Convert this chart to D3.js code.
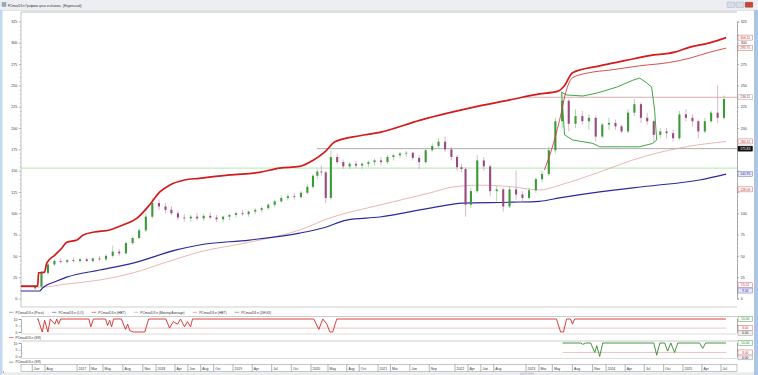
<!DOCTYPE html>
<html><head><meta charset="utf-8">
<script src="https://cdn.jsdelivr.net/npm/d3@7"></script>
<style>
body{margin:0;background:#fff;overflow:hidden}
svg{display:block;font-family:"Liberation Sans",Arial,sans-serif}
</style>
</head><body>
<svg id="c" width="758" height="375"></svg>
<script>
// ---------------- DATA ----------------
const titleText = "PCmaxD3.n Графики цены и объема - [Недельный]";
const seriesName = "PCmaxD3.n";
const legendLabels = ["(Price)", "(LO)", "(HBT)", "(Moving Average)", "(HBT)", "(DEG3)"];
const subLegendLabel = "(SR)";

// monthly candles (open, high, low, close) starting June 2016
const priceStart = "2016-06";
const priceOHLC = [
  [12,16,10,14],[14,32,13,30],[30,42,28,40],[40,46,38,44],[44,47,41,43],[43,46,41,45],[45,48,42,44],
  [44,47,42,46],[46,48,43,44],[44,48,42,47],[47,50,44,46],[46,52,44,50],[50,62,48,55],[55,58,50,53],[53,67,52,65],[65,73,63,71],[71,82,70,80],[80,100,78,96],[96,118,94,112],
  [112,116,104,108],[108,112,100,104],[104,108,98,100],[100,103,92,95],[95,99,90,94],[94,98,90,96],[96,100,92,94],[94,99,91,97],[97,101,93,95],[95,98,90,93],[93,97,90,96],[96,99,92,98],
  [98,102,95,100],[100,104,97,99],[99,103,96,102],[102,106,99,104],[104,108,101,106],[106,112,104,110],[110,116,107,114],[114,121,112,118],[118,123,115,120],[120,124,116,119],[119,126,117,124],[124,134,122,131],
  [131,146,129,144],[144,152,140,149],[149,156,144,148],[148,150,112,118],[118,174,116,166],[166,170,158,160],[160,163,152,155],[155,160,152,158],[158,161,153,156],[156,160,152,158],[158,162,154,160],[160,164,156,162],
  [162,166,156,160],[160,168,158,166],[166,170,162,168],[168,172,165,170],[170,173,166,171],[171,172,162,165],[165,168,152,160],[160,176,158,174],[174,182,172,179],[179,188,176,184],[184,190,172,175],[175,178,162,166],
  [166,168,150,154],[154,158,148,152],[152,154,96,110],[110,130,106,126],[126,168,124,162],[162,166,150,155],[155,157,120,126],[126,132,114,128],[128,130,102,108],[108,132,106,128],[128,150,116,122],[122,126,114,118],
  [118,130,116,127],[127,142,124,140],[140,150,136,146],[146,178,144,174],[174,212,170,208],[208,242,200,232],[232,234,196,205],[205,222,200,214],[214,220,204,208],[208,216,198,212],[212,214,184,190],[190,206,188,204],
  [204,212,198,206],[206,210,198,202],[202,204,194,196],[196,222,194,218],[218,234,214,228],[228,230,206,212],[212,218,204,208],[208,210,184,192],[192,200,188,196],[196,200,188,194],[194,198,184,188],[188,220,186,216],
  [216,222,208,212],[212,216,202,208],[208,210,188,196],[196,212,194,208],[208,220,206,218],[218,250,206,212],[212,238,210,234]
];

const hbtUpper = [
  ["2016-04-07",14.6],["2016-06-27",14.6],["2016-07-01",30],["2016-07-30",31],["2016-08-09",41.6],["2016-09-17",51],
  ["2016-10-20",59],["2016-11-13",66],["2017-01-01",68.6],["2017-01-30",74.5],["2017-03-22",78],["2017-06-01",80.4],
  ["2017-07-30",86],["2017-10-04",94],["2017-12-03",110],["2018-01-19",125],["2018-03-06",133],["2018-05-16",139],
  ["2018-07-26",141],["2018-12-16",145],["2019-05-05",148],["2019-08-07",153],["2019-11-09",155],["2020-01-14",162],
  ["2020-04-09",172],["2020-06-04",184],["2020-10-04",191],["2021-01-10",195],["2021-07-17",209],["2021-12-07",218],
  ["2022-05-26",226],["2022-10-16",233],["2023-03-03",240],["2023-05-24",243],["2023-06-26",250],["2023-08-01",265],
  ["2023-12-03",273],["2024-03-29",279],["2024-07-26",285],["2024-11-22",289],["2025-02-03",295],["2025-05-08",300],
  ["2025-07-25",306.11]
];
const hbtThin = [
  ["2023-03-26",151],["2023-04-27",174],["2023-06-03",209],["2023-07-05",245],["2023-08-01",259],["2023-10-18",265],
  ["2024-01-19",268],["2024-06-09",273],["2024-10-30",277],["2025-02-03",282],["2025-05-08",289],["2025-07-25",293.75]
];
const loLine = [
  ["2016-04-07",8.8],["2016-07-06",8.8],["2016-07-20",12.3],["2016-09-26",20.5],["2016-11-13",25],["2017-04-15",33.4],
  ["2017-09-16",41.6],["2018-04-08",57],["2018-07-26",62.8],["2019-03-19",68.6],["2019-11-09",76.8],["2020-03-25",82.7],
  ["2020-08-01",92],["2021-01-10",95.6],["2021-09-03",106],["2022-02-25",112],["2022-10-30",113],["2023-03-03",114],
  ["2023-06-03",118],["2023-12-03",125],["2024-07-26",132],["2025-03-21",139],["2025-07-25",145.95]
];
const maLine = [
  ["2016-04-07",13.5],["2016-07-20",13.5],["2016-11-13",17],["2017-04-15",21.7],["2017-09-16",30],["2018-02-21",42.8],
  ["2018-07-26",54.6],["2019-03-19",66],["2019-11-09",80.4],["2020-05-10",94.5],["2021-01-10",109.7],["2021-09-03",123.8],
  ["2021-12-22",130.8],["2022-05-26",133],["2022-10-30",131],["2023-03-03",127.3],["2023-06-03",133],["2023-12-03",148.4],
  ["2024-05-07",162.5],["2024-12-16",176.6],["2025-07-25",184.32]
];
const degUpper = [
  ["2023-06-12",242],["2023-07-05",238.8],["2023-09-17",237.6],["2023-11-20",241],["2024-02-21",248],["2024-05-07",256],
  ["2024-06-09",258.7],["2024-07-12",253],["2024-08-05",248],["2024-08-19",221],["2024-08-29",186]
];
const degLower = [
  ["2023-06-12",242],["2023-06-26",192],["2023-08-01",186],["2023-11-02",182],["2023-12-03",178],["2024-03-20",178],
  ["2024-06-09",178],["2024-08-10",182],["2024-08-29",186]
];
const levelGray = {from:"2020-02-12", value:175.83};
const levelBrown = {from:"2022-12-26", value:236.11};
const levelGreen = {from:"2016-04-07", value:153};
const dataEnd = "2025-07-25";

const rightBoxes = [
  {v:306.11, t:"306.11", k:"red"},{v:293.75, t:"293.75", k:"red"},{v:236.11, t:"236.11", k:"gray"},
  {v:184.32, t:"184.32", k:"red"},{v:175.83, t:"175.83", k:"black"},{v:145.95, t:"145.95", k:"blue"},
  {v:128.06, t:"128.06", k:"red"},{v:15.51, t:"15.51", k:"red"},{v:9.34, t:"9.34", k:"blue"}
];

const srRed = [
  ["2016-06-28",10],["2016-07-19",0],["2016-07-30",9],["2016-08-15",0],["2016-08-26",10],["2016-09-17",6],["2016-09-26",10],
  ["2016-10-05",6],["2016-10-15",10],["2017-02-25",10],["2017-03-06",4],["2017-03-18",10],["2017-05-13",10],["2017-05-22",5],
  ["2017-06-01",9],["2017-06-10",4],["2017-06-19",10],["2017-07-25",10],["2017-08-13",2],["2017-08-23",6],["2017-09-02",1],
  ["2017-09-20",0],["2017-11-10",0],["2017-11-28",10],["2018-02-17",10],["2018-03-06",3],["2018-03-24",8],["2018-04-13",6],
  ["2018-04-27",10],["2018-05-16",4],["2018-05-30",8],["2018-06-14",4],["2018-06-23",10],["2020-01-21",10],["2020-02-26",2],
  ["2020-03-25",10],["2020-04-23",6],["2020-05-10",0],["2020-05-24",0],["2020-06-13",10],["2023-05-20",10],["2023-06-08",0],
  ["2023-06-21",0],["2023-07-05",10],["2023-07-23",10],["2023-08-01",6],["2023-08-11",10],["2025-07-25",10]
];
const srGreen = [
  ["2023-06-17",10],["2023-09-08",10],["2023-09-17",9],["2023-10-01",10],["2023-10-23",10],["2023-11-11",3],["2023-11-20",8],
  ["2023-12-03",0],["2023-12-17",10],["2024-08-15",10],["2024-08-29",1],["2024-09-13",10],["2024-10-06",10],["2024-10-20",4],
  ["2024-11-04",10],["2024-11-22",3],["2024-12-07",10],["2025-03-21",10],["2025-04-05",6],["2025-04-19",10],["2025-07-25",10]
];
const srLevel = 3;
const srTicks = [0,5,10];

const timeTicks = [
  ["2016-06-01","Jun"],["2016-08-01","Aug"],["2017-01-01","2017"],["2017-03-01","Mar"],["2017-05-01","May"],["2017-08-01","Aug"],
  ["2017-11-01","Nov"],["2018-01-01","2018"],["2018-04-01","Apr"],["2018-06-01","Jun"],["2018-08-01","Aug"],["2018-10-01","Oct"],
  ["2019-01-01","2019"],["2019-04-01","Apr"],["2019-07-01","Jul"],["2019-10-01","Oct"],["2020-01-01","2020"],["2020-05-01","May"],
  ["2020-08-01","Aug"],["2020-10-01","Oct"],["2021-01-01","2021"],["2021-03-01","Mar"],["2021-06-01","Jun"],["2021-09-01","Sep"],
  ["2022-01-01","2022"],["2022-04-01","Apr"],["2022-06-01","Jun"],["2022-08-01","Aug"],["2023-01-01","2023"],["2023-03-01","Mar"],
  ["2023-05-01","May"],["2023-08-01","Aug"],["2023-11-01","Nov"],["2024-01-01","2024"],["2024-04-01","Apr"],["2024-07-01","Jul"],
  ["2024-10-01","Oct"],["2025-01-01","2025"],["2025-04-01","Apr"],["2025-07-01","Jul"]
];

// ---------------- LAYOUT ----------------
const parse = d3.timeParse("%Y-%m-%d");
const P = {l:21, r:737, t:12, b:307};
// bar-indexed time axis: trading gaps compress early 2020 and early 2022
const anchorDates = ["2016-01-01","2017-01-01","2018-01-01","2019-01-01","2020-01-01","2020-05-01","2021-01-01",
  "2022-01-01","2022-04-01","2023-01-01","2024-01-01","2025-01-01","2025-07-01","2026-01-01"].map(parse);
const anchorPx = [0.5,77,156,233,311,328,378,455,468,526,606,683,721,760];
const x = d3.scaleTime().domain(anchorDates).range(anchorPx);
const y = d3.scaleLinear().domain([0,325]).range([298.5,21.5]);
const y2 = d3.scaleLinear().domain([0,10]).range([332,319]);
const y3 = d3.scaleLinear().domain([0,10]).range([356.5,343]);

const svg = d3.select("#c");
const C = {red:"#d41a1a", red2:"#d23a3a", blue:"#2a2a9c", pink:"#e3a3a3", green:"#2e9a2e",
  up:"#3a9a3a", down:"#9c4a7c", upW:"#8cc48c", downW:"#c89ab4", axis:"#7a7a7a", text:"#333"};

// window chrome
svg.append("rect").attr("width",758).attr("height",375).attr("fill","#fff");
svg.append("rect").attr("x",0).attr("y",0).attr("width",758).attr("height",10).attr("fill","#eceef2");
svg.append("line").attr("x1",0).attr("x2",758).attr("y1",10.5).attr("y2",10.5).attr("stroke","#c8ccd4").attr("stroke-width",0.6);
svg.append("rect").attr("x",2).attr("y",2.5).attr("width",4).attr("height",4).attr("fill","#9ab").attr("stroke","#678").attr("stroke-width",0.3);
svg.append("text").attr("x",8).attr("y",6.6).attr("font-size",3.1).attr("fill","#333").text(titleText);
[["#d6dde8",727],["#d6dde8",736],["#c9473a",745]].forEach(([c,bx])=>{
  svg.append("rect").attr("x",bx).attr("y",2).attr("width",8).attr("height",5.5).attr("rx",0.8).attr("fill",c).attr("stroke","#8a97a8").attr("stroke-width",0.3);
});
svg.append("rect").attr("x",0).attr("y",10).attr("width",2.5).attr("height",365).attr("fill","#c4d8ee");
svg.append("rect").attr("x",754).attr("y",10).attr("width",4).attr("height",365).attr("fill","#a9c6e6");

// clip
svg.append("clipPath").attr("id","mainclip").append("rect")
  .attr("x",P.l).attr("y",P.t).attr("width",P.r-P.l).attr("height",P.b-P.t);

// main frame
svg.append("line").attr("x1",P.l).attr("x2",P.r).attr("y1",P.t).attr("y2",P.t).attr("stroke","#9a9a9a").attr("stroke-width",0.6);
svg.append("line").attr("x1",P.l).attr("x2",P.l).attr("y1",P.t).attr("y2",P.b).attr("stroke","#9a9a9a").attr("stroke-width",0.6);
svg.append("line").attr("x1",P.l).attr("x2",P.r).attr("y1",P.b).attr("y2",P.b).attr("stroke","#b0b0b0").attr("stroke-width",0.6);

// axes (right & left)
function yAxis(scale, side, xpos, major, minor, fs){
  const g = svg.append("g").attr("transform",`translate(${xpos},0)`);
  const ax = (side==="right"?d3.axisRight(scale):d3.axisLeft(scale)).tickValues(major).tickSize(2.2).tickPadding(1.5)
    .tickFormat(d3.format("d"));
  g.call(ax);
  if(minor){
    const mg = svg.append("g").attr("transform",`translate(${xpos},0)`);
    mg.call((side==="right"?d3.axisRight(scale):d3.axisLeft(scale)).tickValues(minor).tickSize(1.1).tickFormat(""));
    mg.select(".domain").remove();
    mg.selectAll("line").attr("stroke",C.axis).attr("stroke-width",0.4);
  }
  g.select(".domain").attr("stroke",C.axis).attr("stroke-width",0.6);
  g.selectAll(".tick line").attr("stroke",C.axis).attr("stroke-width",0.5);
  g.selectAll("text").attr("font-size",fs).attr("fill",C.text).attr("font-family","Liberation Sans, Arial");
  return g;
}
const majors = d3.range(0,326,25);
const minors = d3.range(0,326,5).filter(v=>v%25);
const rAx = yAxis(y,"right",P.r,majors,minors,3.6);
// value boxes cover the tick labels they sit on
rAx.selectAll(".tick").filter(v=>rightBoxes.some(b=>Math.abs(y(b.v)-y(v))<5.2)).select("text").remove();
yAxis(y,"left",P.l,majors,minors,3.6).select(".domain").remove();

const main = svg.append("g").attr("clip-path","url(#mainclip)");

// horizontal levels
[[levelGreen,"#8fdc8f",0.7],[levelGray,"#8a8a8a",0.7],[levelBrown,"#c98c8c",0.7]].forEach(([L,c,w])=>{
  main.append("line").attr("x1",x(parse(L.from))).attr("x2",P.r).attr("y1",y(L.value)).attr("y2",y(L.value))
    .attr("stroke",c).attr("stroke-width",w);
});

const line = d3.line().x(d=>x(parse(d[0]))).y(d=>y(d[1]));
const smooth = d3.line().x(d=>x(parse(d[0]))).y(d=>y(d[1])).curve(d3.curveMonotoneX);

main.append("path").attr("d",smooth(maLine)).attr("fill","none").attr("stroke",C.pink).attr("stroke-width",0.8);
main.append("path").attr("d",smooth(loLine)).attr("fill","none").attr("stroke",C.blue).attr("stroke-width",1.2);
main.append("path").attr("d",line(degUpper)).attr("fill","none").attr("stroke",C.green).attr("stroke-width",0.9);
main.append("path").attr("d",line(degLower)).attr("fill","none").attr("stroke",C.green).attr("stroke-width",0.9);

// candles
const start = d3.timeParse("%Y-%m")(priceStart);
const candles = priceOHLC.map((d,i)=>{
  const m = d3.timeMonth.offset(start,i);
  return {date:new Date(m.getFullYear(), m.getMonth(), 15), o:d[0], h:d[1], l:d[2], c:d[3]};
});
const cg = main.append("g");
cg.selectAll(".wick").data(candles).join("line")
  .attr("x1",d=>x(d.date)).attr("x2",d=>x(d.date))
  .attr("y1",d=>y(d.h)).attr("y2",d=>y(d.l))
  .attr("stroke",d=>d.c>=d.o?C.upW:C.downW).attr("stroke-width",0.7);
cg.selectAll(".body").data(candles).join("rect")
  .attr("x",d=>x(d.date)-1.05).attr("width",2.1)
  .attr("y",d=>y(Math.max(d.o,d.c)))
  .attr("height",d=>Math.max(0.8, Math.abs(y(d.o)-y(d.c))))
  .attr("fill",d=>d.c>=d.o?C.up:C.down);

main.append("path").attr("d",smooth(hbtThin)).attr("fill","none").attr("stroke",C.red2).attr("stroke-width",0.9);
main.append("path").attr("d",smooth(hbtUpper)).attr("fill","none").attr("stroke",C.red).attr("stroke-width",1.7);

// right value boxes
const boxStyle = {red:["#fff","#d06060","#c03030"], gray:["#fff","#a0a0a0","#a03030"], black:["#111","#111","#fff"],
  blue:["#e8e8f8","#7070c0","#3030a0"], green:["#fff","#50a050","#2e8a2e"], grey0:["#eee","#999","#333"]};
function valueBox(yy, t, k){
  const s = boxStyle[k];
  svg.append("rect").attr("x",P.r+1).attr("y",yy-2.5).attr("width",14.5).attr("height",5)
    .attr("fill",s[0]).attr("stroke",s[1]).attr("stroke-width",0.5);
  svg.append("text").attr("x",P.r+8.25).attr("y",yy+1.2).attr("text-anchor","middle")
    .attr("font-size",3.3).attr("fill",s[2]).text(t);
}
rightBoxes.forEach(b=>valueBox(y(b.v), b.t, b.k));

// legend row
function legendRow(yy, items, x0){
  let cx = x0;
  items.forEach(([label,color])=>{
    svg.append("line").attr("x1",cx).attr("x2",cx+4.5).attr("y1",yy).attr("y2",yy).attr("stroke",color).attr("stroke-width",0.7);
    const t = svg.append("text").attr("x",cx+6.5).attr("y",yy+1.2).attr("font-size",3.3).attr("fill",C.text).text(label);
    cx += 6.5 + t.node().getComputedTextLength() + 8;
  });
}
const legendColors = ["#8a8a8a", "#5a5ac8", "#d84040", "#e0a0a0", "#e08a8a", "#50a850"];
legendRow(312.3, legendLabels.map((l,i)=>[seriesName+" "+l, legendColors[i]]), 9);

// sub panels
function subPanel(ys, top, bottom, data, color, levelFrom){
  svg.append("line").attr("x1",P.l).attr("x2",P.r).attr("y1",top).attr("y2",top).attr("stroke","#a8a8a8").attr("stroke-width",0.6);
  svg.append("line").attr("x1",P.l).attr("x2",P.r).attr("y1",bottom).attr("y2",bottom).attr("stroke","#b8b8b8").attr("stroke-width",0.5);
  yAxis(ys,"left",P.l,srTicks,null,3.4);
  const ra = svg.append("g").attr("transform",`translate(${P.r},0)`).call(d3.axisRight(ys).tickValues(srTicks).tickSize(1.5).tickFormat(""));
  ra.select(".domain").attr("stroke",C.axis).attr("stroke-width",0.6);
  ra.selectAll("line").attr("stroke",C.axis).attr("stroke-width",0.5);
  svg.append("line").attr("x1",x(parse(levelFrom))).attr("x2",x(parse(dataEnd))).attr("y1",ys(srLevel)).attr("y2",ys(srLevel))
    .attr("stroke","#e39a9a").attr("stroke-width",0.6);
  const l = d3.line().x(d=>x(parse(d[0]))).y(d=>ys(d[1]));
  svg.append("path").attr("d",l(data)).attr("fill","none").attr("stroke",color).attr("stroke-width",0.9);
  valueBox(ys(0)+0.8,"0.00","grey0");
  valueBox(ys(srLevel),"3.00","red");
  valueBox(ys(10),"10.00","green");
}
subPanel(y2, 316.5, 334, srRed, "#d42a2a", srRed[0][0]);
svg.append("circle").attr("cx",x(parse(srRed[0][0]))).attr("cy",y2(10)).attr("r",0.7).attr("fill","#2e9a2e");
legendRow(337.6, [[seriesName+" "+subLegendLabel, "#d84040"]], 9);
subPanel(y3, 341, 358.5, srGreen, "#2e8a2e", srGreen[0][0]);
legendRow(362.2, [[seriesName+" "+subLegendLabel, "#50a850"]], 9);

// time axis strip
const ta = svg.append("g");
ta.append("rect").attr("x",P.l).attr("y",364.5).attr("width",P.r-P.l).attr("height",7).attr("fill","#fff")
  .attr("stroke","#8a8a8a").attr("stroke-width",0.5);
timeTicks.forEach(([d,lab])=>{
  const tx = x(parse(d));
  ta.append("line").attr("x1",tx).attr("x2",tx).attr("y1",364.5).attr("y2",371.5).attr("stroke","#6a6a6a").attr("stroke-width",0.5);
  ta.append("text").attr("x",tx+1.6).attr("y",369.6).attr("font-size",3.4).attr("fill",C.text).text(lab);
});
// scrollbar
svg.append("rect").attr("x",2.5).attr("y",372.3).attr("width",751.5).attr("height",2.7).attr("fill","#e9ebee");
svg.append("rect").attr("x",520).attr("y",372.6).attr("width",14).attr("height",2.1).attr("fill","#cfd3d8");
svg.append("circle").attr("cx",3.5).attr("cy",372).attr("r",0.6).attr("fill","#666");
</script>
</body></html>
